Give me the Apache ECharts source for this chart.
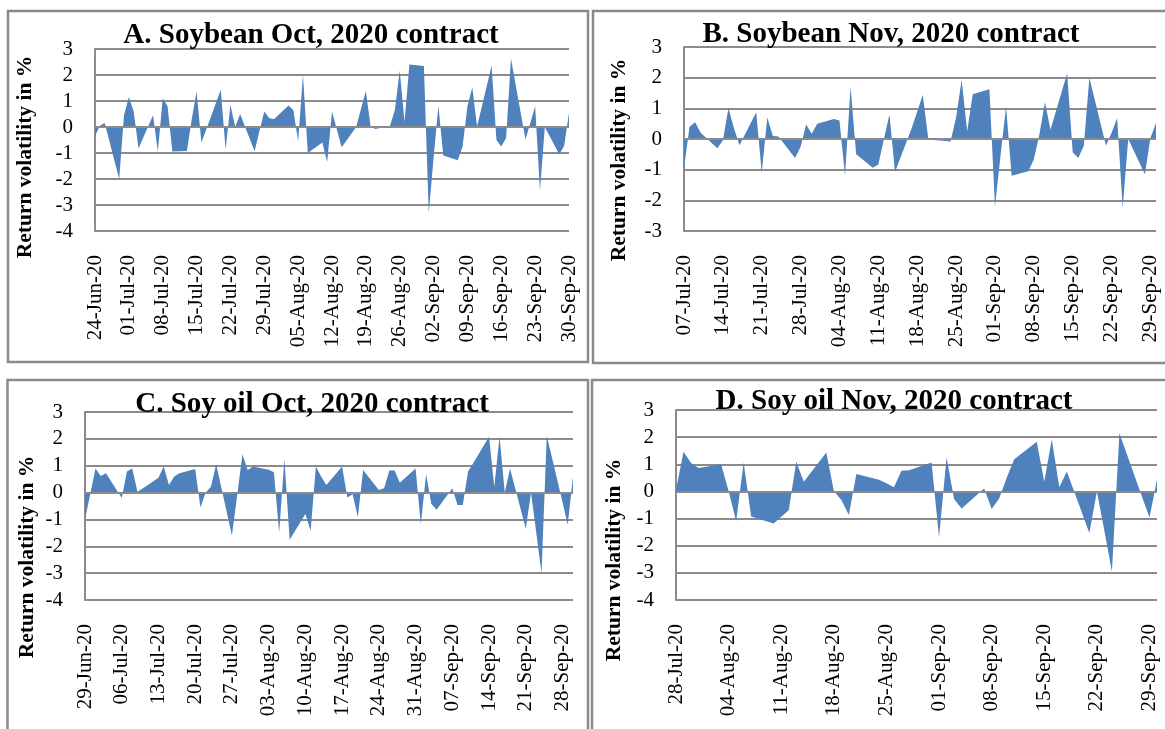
<!DOCTYPE html>
<html>
<head>
<meta charset="utf-8">
<title>Return volatility of soybean and soy oil contracts</title>
<script src="https://cdn.jsdelivr.net/npm/echarts@6.0.0/dist/echarts.min.js"></script>
<style>
  html, body { margin: 0; padding: 0; background: #fff; }
  #chart { width: 1165px; height: 729px; }
</style>
</head>
<body>
<div id="chart"></div>
<script>
// weekdays from 24 Jun to 30 Sep 2020; every panel runs to the last one
const tradingDays = [
  '2020-06-24', '2020-06-25', '2020-06-26', '2020-06-29', '2020-06-30',
  '2020-07-01', '2020-07-02', '2020-07-03', '2020-07-06', '2020-07-07', '2020-07-08', '2020-07-09', '2020-07-10',
  '2020-07-13', '2020-07-14', '2020-07-15', '2020-07-16', '2020-07-17', '2020-07-20', '2020-07-21', '2020-07-22',
  '2020-07-23', '2020-07-24', '2020-07-27', '2020-07-28', '2020-07-29', '2020-07-30', '2020-07-31',
  '2020-08-03', '2020-08-04', '2020-08-05', '2020-08-06', '2020-08-07', '2020-08-10', '2020-08-11', '2020-08-12',
  '2020-08-13', '2020-08-14', '2020-08-17', '2020-08-18', '2020-08-19', '2020-08-20', '2020-08-21', '2020-08-24',
  '2020-08-25', '2020-08-26', '2020-08-27', '2020-08-28', '2020-08-31',
  '2020-09-01', '2020-09-02', '2020-09-03', '2020-09-04', '2020-09-07', '2020-09-08', '2020-09-09', '2020-09-10',
  '2020-09-11', '2020-09-14', '2020-09-15', '2020-09-16', '2020-09-17', '2020-09-18', '2020-09-21', '2020-09-22',
  '2020-09-23', '2020-09-24', '2020-09-25', '2020-09-28', '2020-09-29', '2020-09-30'
];
const lastDay = '2020-09-30';

// A. Soybean Oct, from 24 Jun
const valuesA = [
  -0.35, 0.05, 0.15, -2.0, 0.45,
  1.15, 0.6, -0.83, 0.45, -0.94, 1.1, 0.8, -0.94, -0.92, 0.3, 1.37, -0.6, -0.1, 1.43, -0.87, 0.85, 0.0, 0.5,
  -0.93, -0.15, 0.6, 0.35, 0.3,
  0.83, 0.65, -0.55, 2.0, -1.0, -0.6, -1.35, 0.6, -0.1, -0.78, 0.0, 0.7, 1.38, 0.0, -0.08, 0.05, 0.65, 2.17,
  0.2, 2.4, 2.35,
  -3.3, -1.2, 0.83, -1.1, -1.28, -0.75, 0.8, 1.52, 0.02, 2.37, -0.5, -0.75, -0.42, 2.63, -0.48, 0.15, 0.8,
  -2.45, 0.0, -1.06, -0.72, 0.55
];
// B. Soybean Nov, from 07 Jul
const valuesB = [
  -0.95, 0.4, 0.55, 0.2, -0.3, -0.05, 1.0, 0.35, -0.2, 0.87, -1.1, 0.7, 0.1, 0.08, -0.62, -0.25, 0.47, 0.17, 0.5,
  0.65, 0.6, -1.2, 1.7, -0.5, -0.94, -0.83, 0.0, 0.8, -1.08, 0.35, 0.9, 1.44, 0.0, -0.03, -0.08, 0.7, 1.92,
  0.25, 1.46, 1.62,
  -2.2, -0.55, 1.06, -1.2, -1.05, -0.67, 0.15, 1.2, 0.3, 2.14, -0.43, -0.62, -0.22, 2.0, -0.22, 0.2, 0.68,
  -2.24, 0.0, -1.15, 0.03, 0.52
];
// C. Soy oil Oct, from 29 Jun
const valuesC = [
  -1.0, -0.05,
  0.9, 0.62, 0.72, -0.2, 0.78, 0.9, 0.03, 0.15, 0.55, 0.97, 0.28, 0.6, 0.72, 0.88, -0.56, 0.0, 0.22, 1.05,
  -1.6, -0.1, 1.43, 0.84, 0.97,
  0.85, 0.76, -1.5, 1.25, -1.76, -0.8, -1.42, 0.97, 0.6, 0.28, 0.97, -0.18, -0.06, -0.92, 0.84, 0.1, 0.16,
  0.82, 0.82, 0.37, 0.9,
  -1.18, 0.68, -0.42, -0.64, 0.16, -0.46, -0.46, 0.78, 1.1, 2.08, 0.22, 2.08, 0.0, 0.9, -1.35, 0.0, -1.5,
  -3.0, 2.12, -0.35, -1.2, 0.6
];
// D. Soy oil Nov, from 28 Jul
const valuesD = [
  0.05, 1.46, 1.05, 0.86,
  1.0, 0.02, -1.1, 1.07, -0.92, -1.18, -0.93, -0.69, 1.09, 0.36, 1.43, 0.02, -0.32, -0.87, 0.64, 0.43, 0.3,
  0.15, 0.76, 0.78, 1.07,
  -1.69, 1.25, -0.28, -0.63, 0.11, -0.65, -0.26, 0.5, 1.19, 1.83, 0.36, 1.92, 0.15, 0.73, -1.53, 0.0, -1.45,
  -2.95, 2.14, -0.2, -0.96, 0.43
];

// weekly tick labels, one per 7 days from each panel's first day
const ticksA = ['24-Jun-20', '01-Jul-20', '08-Jul-20', '15-Jul-20', '22-Jul-20', '29-Jul-20', '05-Aug-20',
  '12-Aug-20', '19-Aug-20', '26-Aug-20', '02-Sep-20', '09-Sep-20', '16-Sep-20', '23-Sep-20', '30-Sep-20'];
const ticksB = ['07-Jul-20', '14-Jul-20', '21-Jul-20', '28-Jul-20', '04-Aug-20', '11-Aug-20', '18-Aug-20',
  '25-Aug-20', '01-Sep-20', '08-Sep-20', '15-Sep-20', '22-Sep-20', '29-Sep-20'];
const ticksC = ['29-Jun-20', '06-Jul-20', '13-Jul-20', '20-Jul-20', '27-Jul-20', '03-Aug-20', '10-Aug-20',
  '17-Aug-20', '24-Aug-20', '31-Aug-20', '07-Sep-20', '14-Sep-20', '21-Sep-20', '28-Sep-20'];
const ticksD = ['28-Jul-20', '04-Aug-20', '11-Aug-20', '18-Aug-20', '25-Aug-20', '01-Sep-20', '08-Sep-20',
  '15-Sep-20', '22-Sep-20', '29-Sep-20'];

const titles = ['A. Soybean Oct, 2020 contract', 'B. Soybean Nov, 2020 contract',
  'C. Soy oil Oct, 2020 contract', 'D. Soy oil Nov, 2020 contract'];
const yName = 'Return volatility in %';

const SERIF = '"Liberation Serif", "Times New Roman", serif';
const GRID_GREY = '#8b8b8b';
const AREA_BLUE = '#4f81bd';

const panels = [
  { start: '2020-06-24', values: valuesA, ticks: ticksA, yMin: -4,
    grid: { left: 95, top: 49, width: 474, height: 182 },
    box: [8, 11, 580, 351], titleAt: [311, 36], nameAt: [25, 157] },
  { start: '2020-07-07', values: valuesB, ticks: ticksB, yMin: -3,
    grid: { left: 684, top: 47, width: 472, height: 184 },
    box: [593, 11, 620, 352], titleAt: [891, 35], nameAt: [619, 160] },
  { start: '2020-06-29', values: valuesC, ticks: ticksC, yMin: -4,
    grid: { left: 85, top: 412, width: 488, height: 188 },
    box: [7.5, 380, 580.5, 400], titleAt: [312, 405], nameAt: [27, 557] },
  { start: '2020-07-28', values: valuesD, ticks: ticksD, yMin: -4,
    grid: { left: 676, top: 410, width: 481, height: 190 },
    box: [592, 380, 620, 400], titleAt: [894, 402], nameAt: [614, 560] }
];

function dayNumber(iso) {
  return Math.round(Date.parse(iso + 'T00:00:00Z') / 86400000);
}

const grids = [], xAxes = [], yAxes = [], series = [], graphics = [];

panels.forEach((p, i) => {
  const first = dayNumber(p.start);
  const span = dayNumber(lastDay) - first;
  const days = tradingDays.slice(tradingDays.indexOf(p.start));

  grids.push(p.grid);

  xAxes.push({
    type: 'value',
    gridIndex: i,
    min: 0,
    max: span,
    interval: 7,
    axisLine: { show: false, onZero: false },
    axisTick: { show: false },
    splitLine: { show: false },
    axisLabel: {
      rotate: 90,
      margin: 24,
      color: '#000',
      fontFamily: SERIF,
      fontSize: 21,
      showMaxLabel: true,
      formatter: v => (v % 7 === 0 && p.ticks[v / 7]) ? p.ticks[v / 7] : ''
    }
  });

  yAxes.push({
    type: 'value',
    gridIndex: i,
    min: p.yMin,
    max: 3,
    interval: 1,
    axisLine: { show: true, onZero: false, lineStyle: { color: GRID_GREY, width: 2 } },
    axisTick: { show: false },
    splitLine: { show: true, lineStyle: { color: GRID_GREY, width: 2 } },
    axisLabel: { margin: 22, color: '#000', fontFamily: SERIF, fontSize: 21 }
  });

  series.push({
    type: 'line',
    xAxisIndex: i,
    yAxisIndex: i,
    data: days.map((d, k) => [dayNumber(d) - first, p.values[k]]),
    symbol: 'none',
    silent: true,
    animation: false,
    lineStyle: { width: 0 },
    areaStyle: { color: AREA_BLUE, opacity: 1 },
    // horizontal axis crosses at zero and sits above the area, as in the source
    markLine: {
      silent: true,
      symbol: 'none',
      label: { show: false },
      lineStyle: { color: GRID_GREY, width: 2, type: 'solid' },
      data: [{ yAxis: 0 }],
      animation: false
    }
  });

  graphics.push({
    type: 'rect',
    silent: true,
    z: 0,
    shape: { x: p.box[0], y: p.box[1], width: p.box[2], height: p.box[3] },
    style: { fill: 'none', stroke: '#8a8a8a', lineWidth: 2.5 }
  });
  graphics.push({
    type: 'text',
    silent: true,
    z: 100,
    x: p.titleAt[0],
    y: p.titleAt[1],
    style: {
      text: titles[i],
      fill: '#000',
      fontFamily: SERIF,
      fontWeight: 'bold',
      fontSize: 29,
      align: 'center', verticalAlign: 'middle',
      textAlign: 'center', textVerticalAlign: 'middle'
    }
  });
  graphics.push({
    type: 'text',
    silent: true,
    z: 100,
    x: p.nameAt[0],
    y: p.nameAt[1],
    rotation: Math.PI / 2,
    style: {
      text: yName,
      fill: '#000',
      fontFamily: SERIF,
      fontWeight: 'bold',
      fontSize: 21.5,
      align: 'center', verticalAlign: 'middle',
      textAlign: 'center', textVerticalAlign: 'middle'
    }
  });
});

const chart = echarts.init(document.getElementById('chart'), null, { renderer: 'canvas' });
chart.setOption({
  backgroundColor: '#fff',
  animation: false,
  grid: grids,
  xAxis: xAxes,
  yAxis: yAxes,
  series,
  graphic: graphics
});
</script>
</body>
</html>
